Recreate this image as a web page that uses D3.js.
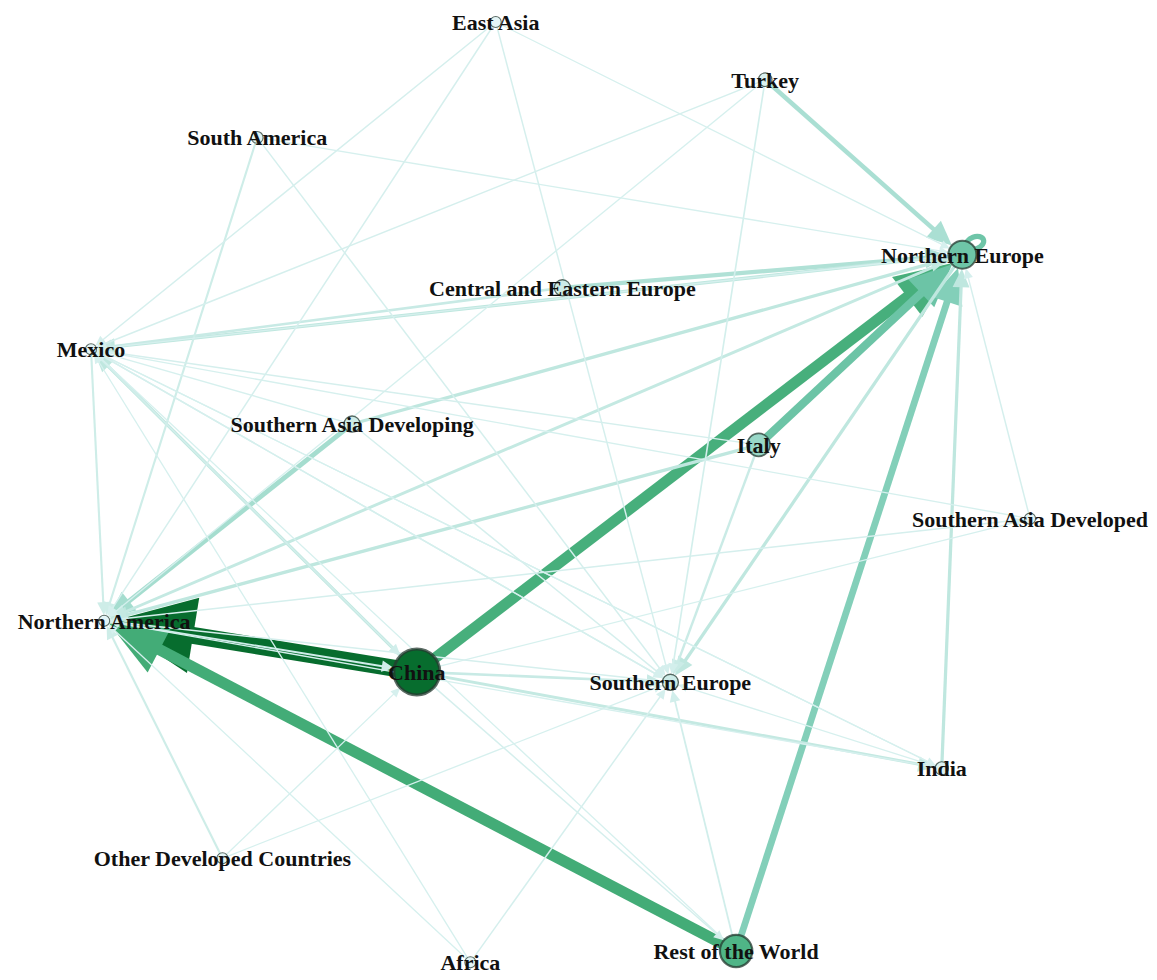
<!DOCTYPE html>
<html>
<head>
<meta charset="utf-8">
<script src="https://cdn.jsdelivr.net/npm/d3@7"></script>
<style>
  body { margin: 0; background: #fff; }
  svg { display: block; }
</style>
</head>
<body>
<svg id="svg" width="1157" height="980"></svg>
<script>
// regions (nodes)
const nodeIds = ["EA", "TR", "SAm", "NE", "CEE", "MX", "SAD", "IT", "SADd", "NA", "CN", "SE", "IN", "ODC", "RW", "AF"];
const nodeLabels = ["East Asia", "Turkey", "South America", "Northern Europe", "Central and Eastern Europe", "Mexico",
  "Southern Asia Developing", "Italy", "Southern Asia Developed", "Northern America", "China", "Southern Europe",
  "India", "Other Developed Countries", "Rest of the World", "Africa"];
// layout coordinates (0-100 layout space)
const layoutX = [43.1, 71.8, 17.7, 92.8, 50.2, 0, 27.8, 71.1, 100, 1.4, 34.7, 61.7, 90.6, 14.0, 68.7, 40.4];
const layoutY = [0, 6.1, 12.2, 24.6, 28.1, 34.6, 42.5, 44.7, 52.5, 63.3, 68.7, 69.8, 78.9, 88.4, 98.2, 99.4];
// node strength (relative)
const nodeStrength = [3, 10, 5, 50, 17, 3, 17, 36, 3, 3, 100, 17, 9, 3, 62, 3];

// flows: [source, target, weight]
const flows = [
  ["CN", "NA", 100], ["RW", "NA", 64], ["CN", "NE", 62], ["IT", "NE", 45], ["RW", "NE", 36],
  ["NE", "NE", 44],
  ["SAD", "NA", 24], ["TR", "NE", 22], ["CEE", "NE", 20],
  ["SAD", "NE", 14], ["IN", "NE", 14], ["NE", "SE", 14], ["NE", "MX", 14], ["CN", "MX", 14],
  ["IT", "NA", 14], ["NE", "NA", 12], ["CN", "IN", 12], ["CEE", "MX", 10], ["CN", "SE", 10],
  ["IT", "SE", 9], ["SAm", "NA", 7], ["ODC", "NA", 7], ["MX", "NA", 7], ["NA", "CN", 6], ["MX", "CN", 5],
  ["RW", "SE", 5], ["TR", "SE", 4], ["SAm", "SE", 3], ["EA", "SE", 3], ["EA", "MX", 3], ["EA", "NA", 3],
  ["TR", "MX", 3], ["SADd", "NE", 3], ["SADd", "NA", 3], ["SE", "MX", 3], ["SE", "NA", 3],
  ["AF", "SE", 3], ["MX", "SE", 3], ["SAD", "SE", 3], ["CN", "RW", 3], ["IT", "MX", 3],
  ["EA", "NE", 2], ["TR", "NA", 2], ["SADd", "MX", 2], ["IN", "MX", 2], ["IN", "NA", 2], ["IN", "SE", 2],
  ["AF", "NA", 2], ["AF", "MX", 2], ["ODC", "CN", 2], ["ODC", "SE", 2], ["SAm", "NE", 2],
  ["MX", "IN", 2], ["MX", "NE", 2], ["SAD", "MX", 2], ["RW", "MX", 2], ["CN", "SADd", 2]
];

let svg = d3.select("svg");
svg.append("rect").attr("width", 1157).attr("height", 980).attr("fill", "#fff");

let x = d3.scaleLinear().domain([0, 100]).range([91, 1030]);
let y = d3.scaleLinear().domain([0, 100]).range([22, 968]);
let radius = d3.scaleLinear().domain([0, 100]).range([5, 23]);
let nodeTone = d3.scaleLinear().domain([0, 100]).range([0.1, 0.87]);
let nodeStroke = d3.scaleLinear().domain([0, 100]).range([1, 3]);
let width = d3.scaleLinear().domain([0, 100]).range([1, 17]);
let edgeTone = d3.scaleLinear().domain([0, 100]).range([0.18, 0.87]);

let nodes = nodeIds.map((id, i) => ({
  id, label: nodeLabels[i], x: x(layoutX[i]), y: y(layoutY[i]), r: radius(nodeStrength[i]), v: nodeStrength[i]
}));
let byId = {};
nodes.forEach(n => { byId[n.id] = n; });

// thick flows first, so the thin ones end up on top
let edges = flows.map(f => ({ s: byId[f[0]], t: byId[f[1]], w: f[2] }))
  .sort((a, b) => b.w - a.w);

let g = svg.append("g");

edges.forEach(e => {
  let col = d3.interpolateBuGn(edgeTone(e.w));
  let sw = width(e.w);
  if (e.s === e.t) {
    // self loop, top right of the node
    let n = e.s;
    g.append("ellipse")
      .attr("cx", n.x + n.r * 0.9)
      .attr("cy", n.y - n.r * 0.85)
      .attr("rx", 9)
      .attr("ry", 6)
      .attr("transform", "rotate(-20," + (n.x + n.r * 0.9) + "," + (n.y - n.r * 0.85) + ")")
      .attr("fill", "none")
      .attr("stroke", col)
      .attr("stroke-width", sw * 0.65);
    return;
  }
  let dx = e.t.x - e.s.x, dy = e.t.y - e.s.y;
  let len = Math.sqrt(dx * dx + dy * dy);
  let ux = dx / len, uy = dy / len;
  let tipX = e.t.x - ux * e.t.r, tipY = e.t.y - uy * e.t.r;
  let L = 3 + 4.8 * sw, hw = 1.5 + 2.15 * sw;
  let bx = tipX - ux * L, by = tipY - uy * L;
  g.append("path")
    .attr("d", d3.line()([[e.s.x, e.s.y], [bx + ux * 2, by + uy * 2]]))
    .attr("fill", "none")
    .attr("stroke", col)
    .attr("stroke-width", sw);
  g.append("path")
    .attr("d", d3.line()([[tipX, tipY], [bx - uy * hw, by + ux * hw], [bx + uy * hw, by - ux * hw]]) + "Z")
    .attr("fill", col);
});

g.selectAll("circle.node")
  .data(nodes)
  .enter().append("circle")
    .classed("node", true)
    .attr("cx", d => d.x)
    .attr("cy", d => d.y)
    .attr("r", d => d.r)
    .attr("fill", d => d3.interpolateBuGn(nodeTone(d.v)))
    .attr("stroke", "#263a30")
    .attr("stroke-opacity", 0.75)
    .attr("stroke-width", d => nodeStroke(d.v));

g.selectAll("text.label")
  .data(nodes)
  .enter().append("text")
    .classed("label", true)
    .attr("x", d => d.x)
    .attr("y", d => d.y + 8)
    .attr("text-anchor", "middle")
    .style("font-family", "'Liberation Serif', 'Times New Roman', serif")
    .style("font-weight", "bold")
    .style("font-size", "22px")
    .style("fill", "#111")
    .text(d => d.label);
</script>
</body>
</html>
